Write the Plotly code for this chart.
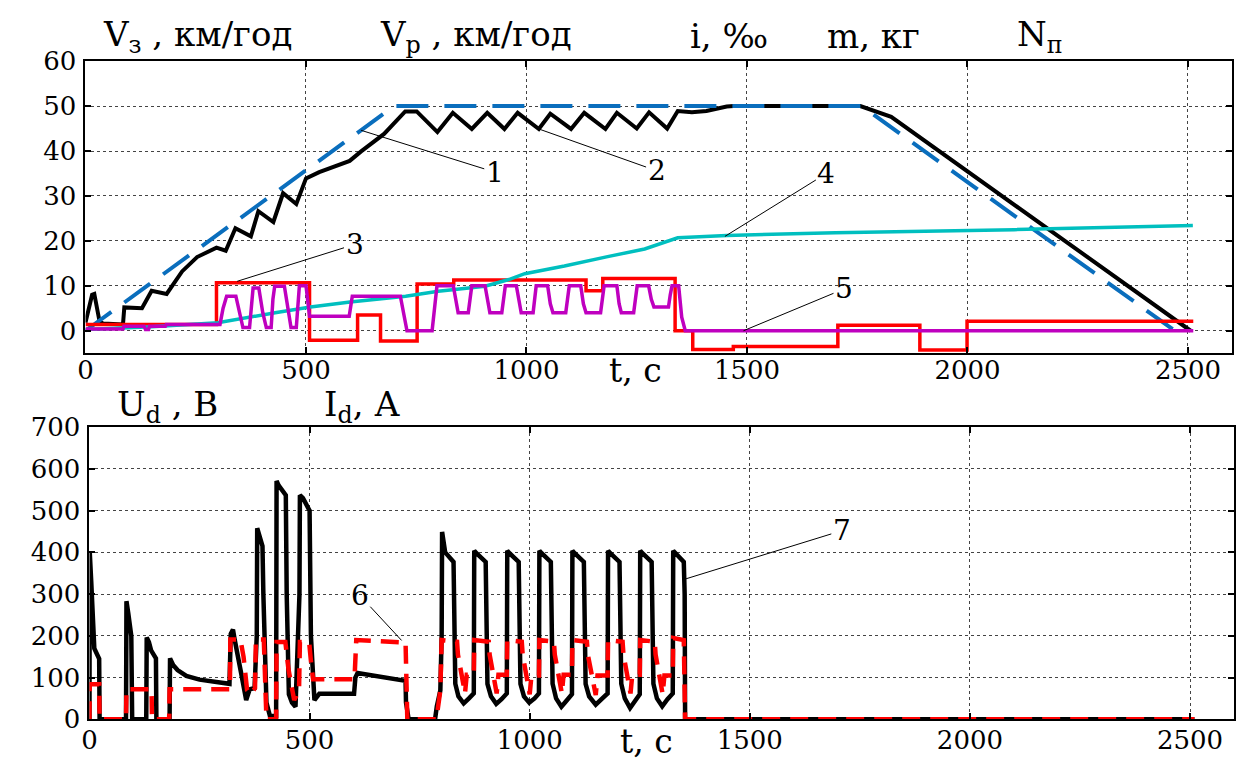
import plotly.graph_objects as go

# ---------------- upper panel: speed, gradient, mass, notch ----------------
# set speed V_z (curve 1)
vz_t = [0, 700, 1760, 2470]
vz_v = [0, 50, 50, 0]

# actual speed V_p (curve 2)
vp_t = [0, 8, 15, 20, 25, 32, 40, 85, 88, 128, 150, 184, 219, 253, 297, 318, 340, 375,
        392, 426, 448, 478, 500, 530, 599, 625, 677, 725, 751, 798, 833, 876, 911, 950,
        980, 1028, 1054, 1101, 1131, 1179, 1205, 1250, 1278, 1319, 1343, 1375, 1408,
        1454, 1470, 1757, 1827, 2506]
vp_v = [1.8, 5, 8, 8.2, 6, 2, 1.6, 1.4, 5.2, 5, 8.9, 8.2, 13.2, 16.4, 18.5, 17.8, 22.8, 21,
        26.6, 24.2, 30.6, 28.2, 33.9, 35.3, 37.8, 39.9, 43.8, 48.8, 48.8, 44.2, 48.5, 44.9,
        48.5, 44.9, 48.5, 44.9, 48.3, 44.9, 48.5, 44.9, 48.5, 45, 48.6, 45, 48.9, 48.6,
        48.9, 49.9, 50, 50, 47.6, 0]

# track gradient i (curve 3), stepwise
grad_t = [0, 297, 508, 617, 669, 752, 835, 1135, 1173, 1337, 1377, 1469, 1706, 1892, 1999, 2512]
grad_v = [1.4, 10.7, -2.1, 3.5, -2.3, 10.4, 11.3, 8.9, 11.6, 0, -4.2, -3.5, 1.2, -4.3, 2.1, 2.1]

# mass m (curve 4)
mass_t = [0, 150, 300, 360, 430, 510, 600, 726, 800, 906, 960, 996, 1086, 1184, 1268,
          1343, 1380, 1454, 1700, 2106, 2511]
mass_v = [0.3, 0.9, 1.8, 2.9, 4.0, 5.3, 6.4, 7.7, 8.8, 9.9, 11.4, 12.7, 14.4, 16.5, 18.2,
          20.7, 20.9, 21.2, 21.8, 22.5, 23.4]

# controller notch N_p (curve 5)
notch_t = [0, 85, 87, 133, 136, 143, 145, 181, 183, 305, 312, 320, 341, 349, 357, 372, 376,
           380, 393, 402, 410, 421, 425, 429, 451, 458, 466, 478, 481, 485, 500, 504, 508,
           598, 605, 714, 722, 729, 786, 791, 797, 834, 840, 845, 868, 872, 876, 906, 912,
           917, 944, 948, 952, 977, 983, 988, 1015, 1018, 1022, 1048, 1054, 1060, 1089,
           1093, 1097, 1123, 1129, 1135, 1168, 1172, 1176, 1205, 1210, 1215, 1243, 1247,
           1251, 1277, 1283, 1289, 1322, 1326, 1330, 1345, 1352, 1360, 2512]
notch_v = [0.4, 0.4, 1.0, 1.0, 0.3, 0.3, 1.0, 1.0, 1.4, 1.4, 5, 7.7, 7.7, 4, 0.7, 0.7, 6,
           9.5, 9.5, 4, 0.7, 0.7, 7, 9.9, 9.9, 5, 0.7, 0.7, 6, 10, 10, 6, 3.2,
           3.2, 7.7, 7.7, 3, 0, 0, 5, 10, 10, 6, 4, 4, 7, 10, 10, 6,
           4, 4, 7, 10, 10, 6, 4, 4, 7, 10, 10, 6, 4, 4,
           7, 10, 10, 6, 4, 4, 7, 10, 10, 6, 4, 4, 7,
           10, 10, 7, 5.3, 5.3, 8, 10, 10, 3, 0, 0]

# ---------------- lower panel: line voltage and current ----------------
ud_t = [0, 0.5, 4, 8, 11, 22, 23, 83, 84, 88, 95, 97, 129, 130, 135, 140, 151, 152, 182, 183,
        190, 200, 220, 250, 280, 310, 318, 321, 326, 330, 336, 345, 356, 364, 375, 380, 381,
        385, 393, 395, 402, 410, 424, 425, 430, 446, 448, 453, 460, 468, 477, 478, 485, 500,
        503, 511, 522, 601, 604, 609, 650, 718, 719, 725, 785, 789, 797, 800, 801, 808, 827,
        829, 831, 838, 850, 862, 873,
        874, 879, 900, 902, 904, 912, 924, 936, 948,
        949, 954, 975, 977, 979, 987, 999, 1011, 1021,
        1022, 1027, 1048, 1050, 1052, 1060, 1072, 1084, 1096,
        1097, 1102, 1123, 1125, 1127, 1135, 1150, 1165, 1177,
        1178, 1183, 1204, 1206, 1208, 1216, 1228, 1240, 1250,
        1251, 1256, 1277, 1279, 1281, 1289, 1301, 1313, 1325,
        1326, 1331, 1350, 1352, 1353, 2510]
ud_v = [0, 403, 330, 260, 170, 145, 0, 0, 283, 255, 200, 0, 0, 196, 185, 165, 146, 0, 0, 146,
        130, 118, 104, 95, 90, 85, 85, 205, 215, 190, 162, 108, 46, 72, 75, 200, 458,
        440, 415, 300, 40, 8, 8, 571, 560, 537, 300, 60, 40, 30, 300, 537, 530, 500,
        200, 46, 61, 61, 100, 111, 103, 92, 40, 0, 0, 31, 69, 200, 449, 400, 377,
        250, 85, 55, 38, 50, 62,
        404, 398, 377, 250, 85, 55, 37, 48, 62,
        404, 398, 377, 250, 85, 55, 40, 50, 62,
        404, 398, 377, 250, 85, 50, 30, 45, 60,
        404, 398, 377, 250, 85, 55, 35, 50, 62,
        404, 398, 377, 250, 85, 50, 27, 45, 60,
        404, 398, 377, 250, 85, 50, 31, 48, 62,
        404, 398, 377, 300, 0, 0]

id_t = [0, 0.5, 22, 23, 83, 84, 141, 142, 181, 182, 319, 320, 343, 350, 358, 366, 376, 378,
        396, 398, 402, 424, 425, 445, 452, 465, 476, 478, 499, 503, 508, 602, 606, 718, 722,
        788, 792, 797,
        800, 835, 837, 853, 857, 873,
        874, 907, 909, 925, 929, 948,
        949, 982, 984, 1000, 1004, 1021,
        1022, 1055, 1057, 1073, 1077, 1096,
        1097, 1130, 1132, 1150, 1154, 1177,
        1178, 1211, 1213, 1229, 1233, 1250,
        1251, 1284, 1286, 1302, 1306, 1325,
        1326, 1350, 1353, 2510]
id_v = [0, 84, 84, 0, 0, 72, 72, 0, 0, 72, 72, 191, 191, 150, 70, 60, 75, 191,
        191, 110, 0, 0, 185, 185, 120, 46, 69, 185, 185, 140, 96, 96, 190, 184, 0,
        0, 30, 69,
        190, 186, 155, 62, 107, 107,
        190, 186, 155, 62, 107, 107,
        190, 186, 155, 60, 105, 105,
        190, 186, 155, 62, 107, 107,
        190, 186, 155, 58, 105, 105,
        190, 186, 155, 62, 107, 107,
        190, 186, 155, 60, 105, 105,
        195, 190, 0, 0]

tick_vals = [0, 500, 1000, 1500, 2000, 2500]
top_yticks = [0, 10, 20, 30, 40, 50, 60]
bot_yticks = [0, 100, 200, 300, 400, 500, 600, 700]

SERIF = "DejaVu Serif"
W, H = 1245, 766

fig = go.Figure()

# upper panel traces (set speed drawn over the actual speed)
fig.add_trace(go.Scatter(x=vp_t, y=vp_v, mode="lines", xaxis="x", yaxis="y",
                         line=dict(color="black", width=4)))
fig.add_trace(go.Scatter(x=vz_t, y=vz_v, mode="lines", xaxis="x", yaxis="y",
                         line=dict(color="#0A6EBD", width=4, dash="32px,16px")))
fig.add_trace(go.Scatter(x=grad_t, y=grad_v, mode="lines", xaxis="x", yaxis="y",
                         line=dict(color="#FF0000", width=3.5, shape="hv")))
fig.add_trace(go.Scatter(x=mass_t, y=mass_v, mode="lines", xaxis="x", yaxis="y",
                         line=dict(color="#00BFBF", width=3.5)))
fig.add_trace(go.Scatter(x=notch_t, y=notch_v, mode="lines", xaxis="x", yaxis="y",
                         line=dict(color="#BF00BF", width=3.5)))

# lower panel traces
fig.add_trace(go.Scatter(x=ud_t, y=ud_v, mode="lines", xaxis="x2", yaxis="y2",
                         line=dict(color="black", width=4.5)))
fig.add_trace(go.Scatter(x=id_t, y=id_v, mode="lines", xaxis="x2", yaxis="y2",
                         line=dict(color="#FF0000", width=4.5, dash="18px,10px")))

axis_common = dict(
    showline=True, linecolor="black", linewidth=2, mirror="ticks",
    ticks="inside", ticklen=6, tickcolor="black", tickwidth=1.5,
    showgrid=True, gridcolor="#444444", gridwidth=1, griddash="dot",
    zeroline=False, tickfont=dict(family=SERIF, size=26, color="black"),
)

fig.update_layout(
    width=W, height=H, margin=dict(l=0, r=0, t=0, b=0),
    paper_bgcolor="white", plot_bgcolor="white", showlegend=False,
    xaxis=dict(axis_common, domain=[78 / W, 1232 / W], range=[0, 2600],
               tickvals=tick_vals, anchor="y", ticklabelstandoff=-7),
    yaxis=dict(axis_common, domain=[1 - 352 / H, 1 - 48 / H], range=[-5, 60],
               tickvals=top_yticks, anchor="x", ticklabelstandoff=2),
    xaxis2=dict(axis_common, domain=[82 / W, 1234 / W], range=[0, 2600],
                tickvals=tick_vals, anchor="y2", ticklabelstandoff=-3),
    yaxis2=dict(axis_common, domain=[1 - 733 / H, 1 - 429 / H], range=[0, 700],
                tickvals=bot_yticks, anchor="x2", ticklabelstandoff=2),
)

title_font = dict(family=SERIF, size=34, color="black")
label_font = dict(family=SERIF, size=33, color="black")

titles = [
    ("V<sub>з</sub> , км/год", 94, 22),
    ("V<sub>p</sub> , км/год", 372, 22),
    ("i, ‰", 684, 22),
    ("m, кг", 822, 22),
    ("N<sub>п</sub>", 1014, 22),
    ("U<sub>d</sub> , В", 108, 407),
    ("I<sub>d</sub>, А", 316, 407),
]
for txt, px, py in titles:
    fig.add_annotation(text=txt, xref="paper", yref="paper", x=px / W, y=1 - py / H,
                       xanchor="left", yanchor="middle", showarrow=False, font=title_font)

# time axis captions
fig.add_annotation(text="t, с", xref="paper", yref="paper", x=632 / W, y=1 - 370 / H,
                   xanchor="center", yanchor="middle", showarrow=False, font=label_font)
fig.add_annotation(text="t, с", xref="paper", yref="paper", x=643 / W, y=1 - 746 / H,
                   xanchor="center", yanchor="middle", yshift=-10, showarrow=False,
                   font=label_font)

# numbered callouts: (text, tip t, tip value, label t, label value, axes)
callouts = [
    ("1", 625, 44.6, 928, 35.3, "x", "y"),
    ("2", 1028, 44.9, 1295, 35.6, "x", "y"),
    ("3", 344, 11.0, 610, 19.2, "x", "y"),
    ("4", 1450, 21.0, 1680, 35.0, "x", "y"),
    ("5", 1492, 0.0, 1720, 9.3, "x", "y"),
    ("6", 709, 189, 614, 297, "x2", "y2"),
    ("7", 1353, 336, 1709, 452, "x2", "y2"),
]
for txt, tx, ty, lx, ly, xr, yr in callouts:
    fig.add_annotation(text=txt, x=tx, y=ty, ax=lx, ay=ly, xref=xr, yref=yr,
                       axref=xr, ayref=yr, showarrow=True, arrowhead=0,
                       arrowwidth=1, arrowcolor="black", standoff=0,
                       font=dict(family=SERIF, size=28, color="black"))

fig.write_html("out.html")
